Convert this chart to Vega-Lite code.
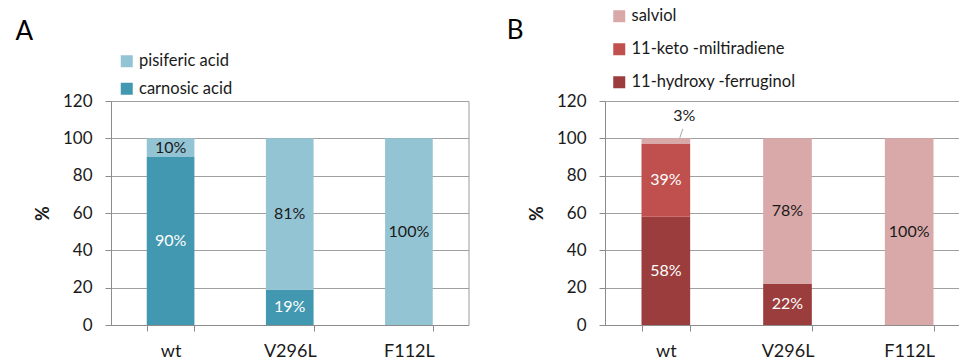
{
  "$schema": "https://vega.github.io/schema/vega-lite/v6.json",
  "background": "white",
  "padding": {"left": 15, "top": 8, "right": -9, "bottom": 0},
  "config": {
    "font": "Lato",
    "view": {"stroke": "#9a9a9a", "strokeWidth": 1},
    "axis": {
      "labelFont": "Lato", "titleFont": "Lato",
      "labelColor": "#1a1a1a", "titleColor": "#1a1a1a",
      "domainColor": "#8c8c8c", "tickColor": "#8c8c8c", "gridColor": "#a0a0a0"
    },
    "axisY": {"values": [0, 20, 40, 60, 80, 100, 120], "labelOverlap": false, "grid": true, "tickSize": 6, "labelPadding": 13, "labelFontSize": 17, "titleFontSize": 18, "titleFontWeight": "bold", "titlePadding": 10},
    "legend": {"labelFont": "Lato", "labelColor": "#1a1a1a", "labelLimit": 400},
    "title": {"font": "Lato", "fontSize": 26, "fontWeight": "normal", "color": "#000000", "baseline": "alphabetic", "anchor": "start", "frame": "group"}
  },
  "datasets": {
    "a": [
      {"sample": "wt", "compound": "carnosic acid", "value": 90},
      {"sample": "wt", "compound": "pisiferic acid", "value": 10},
      {"sample": "V296L", "compound": "carnosic acid", "value": 19},
      {"sample": "V296L", "compound": "pisiferic acid", "value": 81},
      {"sample": "F112L", "compound": "pisiferic acid", "value": 100}
    ],
    "b": [
      {"sample": "wt", "compound": "11-hydroxy -ferruginol", "value": 58},
      {"sample": "wt", "compound": "11-keto -miltiradiene", "value": 39},
      {"sample": "wt", "compound": "salviol", "value": 3},
      {"sample": "V296L", "compound": "11-hydroxy -ferruginol", "value": 22},
      {"sample": "V296L", "compound": "salviol", "value": 78},
      {"sample": "F112L", "compound": "salviol", "value": 100}
    ]
  },
  "spacing": 37,
  "resolve": {
    "scale": {"x": "independent", "y": "independent", "color": "independent"},
    "legend": {"color": "independent"}
  },
  "hconcat": [
    {
      "width": 357.5,
      "height": 224,
      "title": {"text": "A", "dx": -95.5, "offset": 8.5},
      "data": {"name": "a"},
      "transform": [
        {"calculate": "indexof(['carnosic acid','pisiferic acid'], datum.compound)", "as": "k"},
        {"stack": "value", "groupby": ["sample"], "sort": [{"field": "k", "order": "ascending"}], "as": ["y0", "y1"]},
        {"calculate": "(datum.y0 + datum.y1) / 2", "as": "mid"},
        {"calculate": "datum.value + '%'", "as": "label"}
      ],
      "encoding": {
        "x": {
          "field": "sample", "type": "nominal", "sort": ["wt", "V296L", "F112L"],
          "scale": {"paddingInner": 0.6, "paddingOuter": 0.3},
          "axis": {"title": null, "labelAngle": 0, "tickBand": "extent", "tickSize": 6, "labelFontSize": 18, "labelPadding": 11, "grid": false}
        }
      },
      "layer": [
        {
          "mark": {"type": "bar"},
          "encoding": {
            "y": {"field": "y0", "type": "quantitative", "scale": {"domain": [0, 120]}, "title": "%"},
            "y2": {"field": "y1"},
            "color": {
              "field": "compound", "type": "nominal",
              "scale": {"domain": ["pisiferic acid", "carnosic acid"], "range": ["#93C4D4", "#4298B0"]},
              "legend": {"orient": "none", "legendX": 7.5, "legendY": -48, "title": null, "symbolType": "square", "symbolSize": 144, "symbolStrokeWidth": 0, "symbolOpacity": 1, "labelFontSize": 16.5, "rowPadding": 10.5, "labelOffset": 4, "padding": 0}
            }
          }
        },
        {
          "mark": {"type": "text", "fontSize": 16},
          "transform": [{"filter": "datum.value >= 5"}],
          "encoding": {
            "y": {"field": "mid", "type": "quantitative", "title": "%"},
            "text": {"field": "label"},
            "color": {"condition": {"test": "datum.compound === 'carnosic acid'", "value": "#ffffff"}, "value": "#1a1a1a"}
          }
        }
      ]
    },
    {
      "width": 365,
      "height": 224,
      "view": {"stroke": null},
      "title": {"text": "B", "dx": -98.3, "offset": -35.5},
      "data": {"name": "b"},
      "transform": [
        {"calculate": "indexof(['11-hydroxy -ferruginol','11-keto -miltiradiene','salviol'], datum.compound)", "as": "k"},
        {"stack": "value", "groupby": ["sample"], "sort": [{"field": "k", "order": "ascending"}], "as": ["y0", "y1"]},
        {"calculate": "(datum.y0 + datum.y1) / 2", "as": "mid"},
        {"calculate": "datum.value + '%'", "as": "label"}
      ],
      "encoding": {
        "x": {
          "field": "sample", "type": "nominal", "sort": ["wt", "V296L", "F112L"],
          "scale": {"paddingInner": 0.6, "paddingOuter": 0.3},
          "axis": {"title": null, "labelAngle": 0, "tickBand": "extent", "tickSize": 6, "labelFontSize": 18, "labelPadding": 11, "grid": false}
        }
      },
      "layer": [
        {
          "mark": {"type": "bar"},
          "encoding": {
            "y": {"field": "y0", "type": "quantitative", "scale": {"domain": [0, 120]}, "title": "%"},
            "y2": {"field": "y1"},
            "color": {
              "field": "compound", "type": "nominal",
              "scale": {"domain": ["salviol", "11-keto -miltiradiene", "11-hydroxy -ferruginol"], "range": ["#D9A9A9", "#C0504D", "#9B3D3D"]},
              "legend": {"orient": "none", "legendX": 6, "legendY": -93, "title": null, "symbolType": "square", "symbolSize": 144, "symbolStrokeWidth": 0, "symbolOpacity": 1, "labelFontSize": 16.5, "rowPadding": 16, "labelOffset": 4, "padding": 0}
            }
          }
        },
        {
          "mark": {"type": "text", "fontSize": 16},
          "transform": [{"filter": "datum.value >= 5"}],
          "encoding": {
            "y": {"field": "mid", "type": "quantitative", "title": "%"},
            "text": {"field": "label"},
            "color": {"condition": {"test": "datum.compound !== 'salviol'", "value": "#ffffff"}, "value": "#1a1a1a"}
          }
        },
        {
          "mark": {"type": "text", "fontSize": 16, "dx": 18.5, "dy": -22, "color": "#1a1a1a"},
          "transform": [{"filter": "datum.value < 5"}],
          "encoding": {
            "y": {"field": "y1", "type": "quantitative", "title": "%"},
            "text": {"field": "label"}
          }
        },
        {
          "mark": {"type": "rule", "color": "#a6a6a6", "strokeWidth": 1, "xOffset": 14, "x2Offset": 17, "yOffset": -0.5, "y2Offset": -9.5},
          "transform": [{"filter": "datum.value < 5"}],
          "encoding": {
            "x2": {"field": "sample"},
            "y": {"field": "y1", "type": "quantitative", "title": "%"},
            "y2": {"field": "y1"}
          }
        }
      ]
    }
  ]
}
